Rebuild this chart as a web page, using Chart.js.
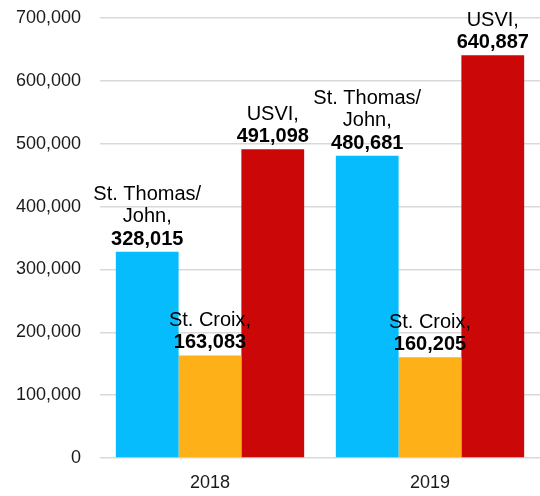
<!DOCTYPE html>
<html>
<head>
<meta charset="utf-8">
<script src="https://cdn.jsdelivr.net/npm/chart.js@4/dist/chart.umd.min.js"></script>
<style>
  html, body { margin: 0; padding: 0; background: #fff; overflow: hidden; }
  #wrap { position: relative; width: 540px; height: 496px; }
</style>
</head>
<body>
<div id="wrap"><canvas id="chart"></canvas></div>
<script>
// data
const years = ["2018", "2019"];
const seriesNames = ["St. Thomas/John", "St. Croix", "USVI"];
const seriesNameLines = [["St. Thomas/", "John,"], ["St. Croix,"], ["USVI,"]];
const stThomasJohn = [328015, 480681];
const stCroix = [163083, 160205];
const usvi = [491098, 640887];
const yTicks = [0, 100000, 200000, 300000, 400000, 500000, 600000, 700000];

const colors = ["#06BCFD", "#FDB018", "#CB0707"];
const FONT = "'Liberation Sans', Arial, sans-serif";

// labels above each bar: name lines (normal) + value (bold)
const barLabels = {
  id: "barLabels",
  afterDatasetsDraw(chart) {
    const ctx = chart.ctx;
    ctx.save();
    ctx.fillStyle = "#000";
    ctx.textAlign = "center";
    ctx.textBaseline = "alphabetic";
    chart.data.datasets.forEach((ds, i) => {
      const meta = chart.getDatasetMeta(i);
      meta.data.forEach((bar, j) => {
        let y = bar.y - 7;
        ctx.font = "bold 20px " + FONT;
        ctx.fillText(ds.data[j].toLocaleString("en-US"), bar.x, y);
        ctx.font = "20px " + FONT;
        const lines = seriesNameLines[i];
        for (let k = lines.length - 1; k >= 0; k--) {
          y -= 22.5;
          ctx.fillText(lines[k], bar.x, y);
        }
      });
    });
    ctx.restore();
  },
};

new Chart(document.getElementById("chart"), {
  type: "bar",
  data: {
    labels: years,
    datasets: [
      { label: seriesNames[0], data: stThomasJohn, backgroundColor: colors[0] },
      { label: seriesNames[1], data: stCroix, backgroundColor: colors[1] },
      { label: seriesNames[2], data: usvi, backgroundColor: colors[2] },
    ],
  },
  options: {
    responsive: true,
    maintainAspectRatio: false,
    animation: false,
    layout: { autoPadding: false, padding: { top: 18, left: 0, right: 0, bottom: 0 } },
    datasets: {
      bar: { barPercentage: 1, categoryPercentage: 0.856 },
    },
    plugins: {
      legend: { display: false },
      tooltip: { enabled: false },
    },
    scales: {
      x: {
        grid: { display: false, drawTicks: false },
        border: { display: false },
        ticks: { color: "#1a1a1a", font: { family: FONT, size: 18 }, padding: 14 },
        afterFit: (axis) => { axis.height = 38; },
      },
      y: {
        min: 0,
        max: 700000,
        afterBuildTicks: (axis) => {
          axis.ticks = yTicks.map((v) => ({ value: v }));
        },
        afterFit: (axis) => {
          axis.width = 100;
          axis.paddingTop = 0;
          axis.paddingBottom = 0;
        },
        grid: { color: "#d9d9d9", lineWidth: 1.5, drawTicks: false },
        border: { display: false },
        ticks: {
          color: "#1a1a1a",
          font: { family: FONT, size: 18 },
          padding: 19,
          callback: (v) => v.toLocaleString("en-US"),
        },
      },
    },
  },
  plugins: [barLabels],
});
</script>
</body>
</html>
